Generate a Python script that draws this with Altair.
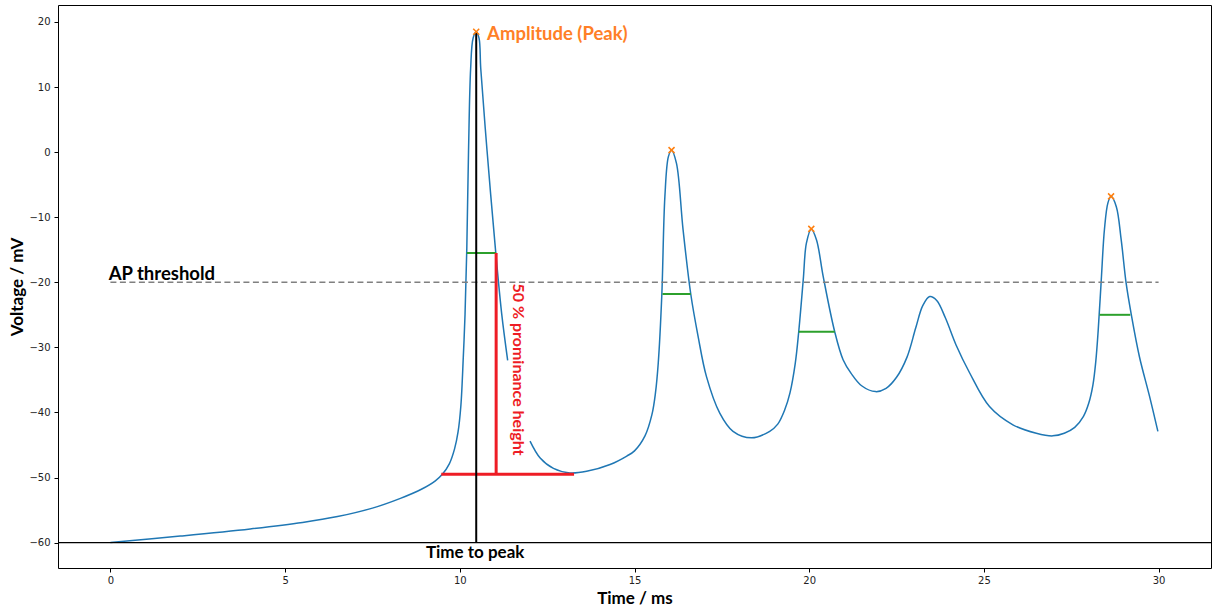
import altair as alt
import pandas as pd

# ---- data ----
seg1_t = [0, 2.0, 4.0, 5.5, 6.5, 7.5, 8.3, 8.9, 9.3, 9.5, 9.7, 9.85, 9.95, 10.03, 10.1, 10.15,
          10.2, 10.25, 10.31, 10.38, 10.47, 10.55, 10.6, 10.78, 11.02, 11.2, 11.37]
seg1_v = [-60, -59.0, -57.9, -56.9, -56.0, -54.7, -53.2, -51.8, -50.5, -49.5, -47.9, -45.6, -43.0, -39.0, -31.5, -24.9,
          -14.9, 0.2, 12.8, 17.5, 18.5, 17.5, 12.8, 0.2, -14.9, -24.9, -32]

seg2_t = [12.01, 12.3, 12.68, 13.15, 13.63, 14.3, 14.78, 15.0, 15.3, 15.5, 15.6, 15.68, 15.78, 15.87, 15.97,
          16.06, 16.2, 16.39, 16.61, 16.82, 17.06, 17.44, 17.82, 18.35, 18.87, 19.1, 19.3, 19.45, 19.6, 19.7, 19.83,
          19.92, 20.06, 20.21, 20.4, 20.73, 20.97, 21.2, 21.5, 21.9, 22.2, 22.5, 22.8, 23.05, 23.25, 23.45, 23.65,
          23.9, 24.2, 24.59, 25.16, 25.83, 26.5, 26.97, 27.3, 27.6, 27.85, 28.0, 28.12, 28.2, 28.27, 28.36, 28.45,
          28.55, 28.64, 28.79, 28.93, 29.07, 29.22, 29.45, 29.74, 29.98]
seg2_v = [-44.4, -47, -48.6, -49.3, -49.05, -48, -46.7, -45.9, -43.6, -40.3, -37.0, -32.4, -22.2, -6.8, -0.7,
          0.3, -1.7, -11.9, -21.8, -28.3, -34.5, -40.1, -42.9, -43.9, -42.9, -41.8, -39.6, -37.0, -32.5, -27.6, -19.6,
          -14, -11.8, -13.5, -19.1, -27.6, -31.9, -34.0, -35.9, -36.8, -36.3, -34.6, -31.5, -27.0, -23.6, -22.2, -22.8,
          -25.5, -29.6, -33.9, -39.1, -41.9, -43.2, -43.6, -43.2, -42.3, -40.6, -38.6, -35.8, -32.3, -27.5, -19.6, -11.9,
          -7.8, -6.8, -8.4, -13.5, -20.1, -25, -31.4, -37.5, -42.9]

peak_t = [10.47, 16.06, 20.06, 28.64]
peak_v = [18.5, 0.3, -11.8, -6.8]

width_left = [10.2, 15.8, 19.70, 28.31]
width_right = [11.04, 16.61, 20.73, 29.19]
width_v = [-15.5, -21.8, -27.6, -25.0]

threshold = -20
baseline_v = -60
prom_base = -49.5
prom_left, prom_right = 9.47, 13.27

x_ticks = [0, 5, 10, 15, 20, 25, 30]
y_ticks = [-60, -50, -40, -30, -20, -10, 0, 10, 20]

# ---- tables ----
curve = pd.DataFrame({
    "t": seg1_t + seg2_t,
    "v": seg1_v + seg2_v,
    "seg": ["a"] * len(seg1_t) + ["b"] * len(seg2_t),
})
peaks = pd.DataFrame({"t": peak_t, "v": peak_v})
widths = pd.DataFrame({"t1": width_left, "t2": width_right, "v": width_v})

W, H = 1153, 563
xs = alt.Scale(domain=[-1.5, 31.5], nice=False, zero=False)
ys = alt.Scale(domain=[-63.9, 22.6], nice=False, zero=False)

x_axis = alt.Axis(values=x_ticks, title="Time / ms", grid=False, domain=False,
                  tickSize=4, tickColor="black", labelPadding=3,
                  labelFont="DejaVu Sans", labelFontSize=10, labelColor="#222",
                  titleFont="Lato", titleFontSize=17, titleFontWeight="bold", titleColor="black",
                  titleX=W / 2, titleY=30, titleBaseline="middle", titleAlign="center")
y_axis = alt.Axis(values=y_ticks, title="Voltage / mV", grid=False, domain=False,
                  tickSize=4, tickColor="black", labelPadding=4,
                  labelFont="DejaVu Sans", labelFontSize=10, labelColor="#222",
                  titleFont="Lato", titleFontSize=17, titleFontWeight="bold", titleColor="black",
                  titleX=-41, titleY=H / 2, titleBaseline="middle", titleAlign="center", titleAngle=-90)

line = alt.Chart(curve).mark_line(color="#1f77b4", strokeWidth=1.5, interpolate="catmull-rom").encode(
    x=alt.X("t:Q", scale=xs, axis=x_axis),
    y=alt.Y("v:Q", scale=ys, axis=y_axis),
    detail="seg:N",
    order="t:Q",
)

thr = alt.Chart(pd.DataFrame({"a": [0], "b": [30], "v": [threshold]})).mark_rule(
    color="#808080", strokeWidth=1.5, strokeDash=[6, 3.5]).encode(
    x=alt.X("a:Q", scale=xs), x2="b:Q", y=alt.Y("v:Q", scale=ys))

base_line = alt.Chart(pd.DataFrame({"v": [baseline_v]})).mark_rule(color="black", strokeWidth=1.2).encode(
    y=alt.Y("v:Q", scale=ys))

ttp = alt.Chart(pd.DataFrame({"t": [peak_t[0]], "a": [baseline_v], "b": [peak_v[0]]})).mark_rule(
    color="black", strokeWidth=2).encode(
    x=alt.X("t:Q", scale=xs), y=alt.Y("a:Q", scale=ys), y2="b:Q")

red_h = alt.Chart(pd.DataFrame({"a": [prom_left], "b": [prom_right], "v": [prom_base]})).mark_rule(
    color="#ee1c25", strokeWidth=3).encode(
    x=alt.X("a:Q", scale=xs), x2="b:Q", y=alt.Y("v:Q", scale=ys))
red_v = alt.Chart(pd.DataFrame({"t": [width_right[0]], "a": [prom_base], "b": [width_v[0]]})).mark_rule(
    color="#ee1c25", strokeWidth=3).encode(
    x=alt.X("t:Q", scale=xs), y=alt.Y("a:Q", scale=ys), y2="b:Q")

green = alt.Chart(widths).mark_rule(color="#2ca02c", strokeWidth=2).encode(
    x=alt.X("t1:Q", scale=xs), x2="t2:Q", y=alt.Y("v:Q", scale=ys))

marks = alt.Chart(peaks).mark_point(shape="M-1,-1L1,1M-1,1L1,-1", filled=False, color="#ff7f0e",
                                     strokeWidth=1.5, size=36, opacity=1).encode(
    x=alt.X("t:Q", scale=xs), y=alt.Y("v:Q", scale=ys))

texts = pd.DataFrame({
    "t": [10.78, -0.05, 10.44],
    "v": [18.2, -18.7, -61.6],
    "label": ["Amplitude (Peak)", "AP threshold", "Time to peak"],
})
amp = alt.Chart(texts.iloc[[0]]).mark_text(font="Lato", fontSize=18.5, fontWeight="bold", color="#ff7f27",
                                            align="left", baseline="middle").encode(
    x=alt.X("t:Q", scale=xs), y=alt.Y("v:Q", scale=ys), text="label:N")
thr_txt = alt.Chart(texts.iloc[[1]]).mark_text(font="Lato", fontSize=18.5, fontWeight="bold", color="black",
                                                align="left", baseline="middle").encode(
    x=alt.X("t:Q", scale=xs), y=alt.Y("v:Q", scale=ys), text="label:N")
ttp_txt = alt.Chart(texts.iloc[[2]]).mark_text(font="Lato", fontSize=17, fontWeight="bold", color="black",
                                                align="center", baseline="middle").encode(
    x=alt.X("t:Q", scale=xs), y=alt.Y("v:Q", scale=ys), text="label:N")
prom_txt = alt.Chart(pd.DataFrame({"t": [11.67], "v": [-33.4], "label": ["50 % prominance height"]})).mark_text(
    font="Lato", fontSize=16, fontWeight="bold", color="#ee1c25", align="center", baseline="middle", angle=90).encode(
    x=alt.X("t:Q", scale=xs), y=alt.Y("v:Q", scale=ys), text="label:N")

chart = alt.layer(line, thr, base_line, green, red_h, red_v, ttp, marks, amp, thr_txt, ttp_txt, prom_txt).properties(
    width=W, height=H,
    autosize=alt.AutoSizeParams(type="none"),
    padding={"left": 58, "top": 5, "right": 1, "bottom": 40},
    background="white",
).configure_view(stroke="black", strokeWidth=1)

chart.save("out.html", embed_options={"renderer": "svg", "actions": False})
